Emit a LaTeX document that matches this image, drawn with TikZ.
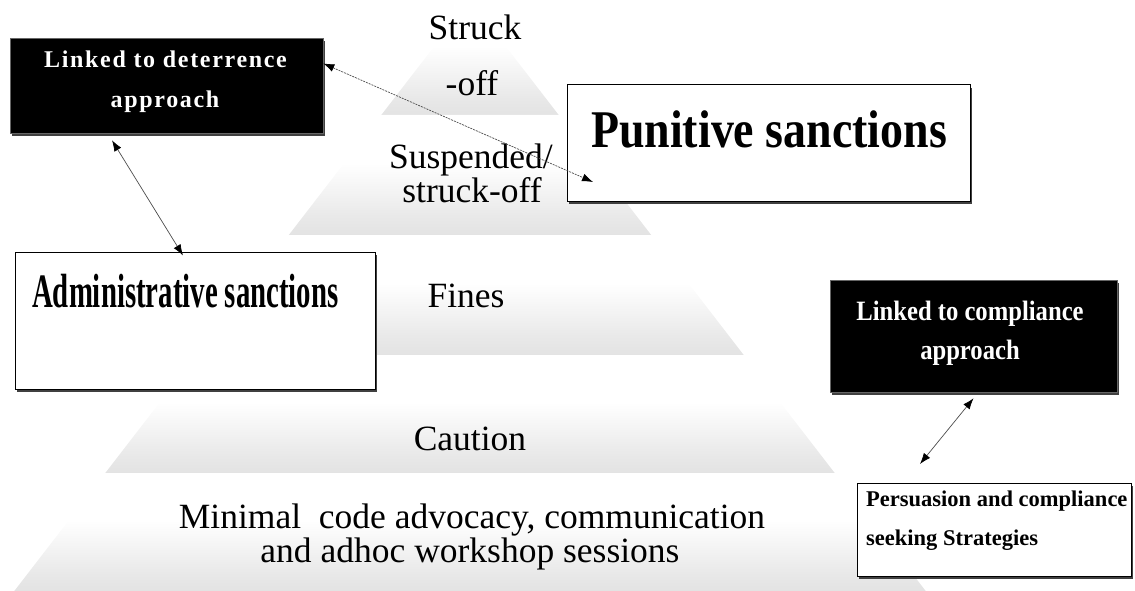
\documentclass[tikz,border=0pt]{standalone}
\usepackage{graphicx}
\usepackage{fontspec}
\setmainfont{Liberation Serif}
\newfontfamily\widebold[LetterSpace=7]{Liberation Serif}
\usetikzlibrary{arrows.meta,shadows}
% tier fill: light grey at the foot, fading to white above the middle
\pgfdeclareverticalshading{tier}{100bp}{color(0bp)=(black!11); color(25bp)=(black!11); color(32bp)=(black!9); color(55bp)=(white); color(100bp)=(white)}
\begin{document}
\begin{tikzpicture}[x=1pt,y=-1pt,
  tier/.style={shading=tier},
  tiertext/.style={font=\fontsize{35.5}{34}\selectfont, inner sep=0pt, anchor=base},
  boxshadow/.style={drop shadow={shadow xshift=2pt,shadow yshift=-3pt,fill=black!75,opacity=1}},
  darkbox/.style={fill=black, draw=black!60, line width=0.6pt, inner sep=0pt, boxshadow},
  lightbox/.style={fill=white, draw=black, line width=1pt, inner sep=0pt, boxshadow},
  darktext/.style={text=white, inner sep=0pt, anchor=base},
  detfont/.style={font=\widebold\bfseries\fontsize{24}{26}\selectfont},
  compfont/.style={font=\bfseries\fontsize{28}{28}\selectfont},
  persfont/.style={inner sep=0pt, anchor=base west, font=\bfseries\fontsize{22.5}{26}\selectfont},
  tip/.tip={Latex[length=11pt,width=8pt,color=black]},
  link/.style={tip-tip, draw=black!70, line width=0.7pt},
]
\useasboundingbox (0,0) rectangle (1135,591);

% pyramid tiers, apex on top
\shade[tier] (470,0) -- (558.7,115) -- (381.3,115) -- cycle;
\shade[tier] (381.3,115) -- (558.7,115) -- (651.2,235) -- (288.8,235) -- cycle;
\shade[tier] (288.8,235) -- (651.2,235) -- (743.7,355) -- (196.3,355) -- cycle;
\shade[tier] (196.3,355) -- (743.7,355) -- (834.7,473) -- (105.3,473) -- cycle;
\shade[tier] (105.3,473) -- (834.7,473) -- (925.7,591) -- (14.3,591) -- cycle;

% tier labels
\node[tiertext] (t1a) at (475,40) {Struck};
\node[tiertext] (t1b) at (472,96) {-off};
\node[tiertext] (t2a) at (471,168) {Suspended/};
\node[tiertext] (t2b) at (472,202) {struck-off};
\node[tiertext] (t3) at (466,307) {Fines};
\node[tiertext] (t4) at (470,450) {Caution};
\node[tiertext] (t5a) at (472,528) {Minimal\ \ code advocacy, communication};
\node[tiertext] (t5b) at (470,562) {and adhoc workshop sessions};

% boxes
\node[darkbox, minimum width=313pt, minimum height=95pt] (det) at (166.5,85.5) {};
\node[darktext, detfont] (detA) at (165.5,68) {Linked to deterrence};
\node[darktext, detfont] (detB) at (165,108) {approach};

\node[lightbox, minimum width=403pt, minimum height=116pt] (pun) at (768.5,143) {};
\node[inner sep=0pt, anchor=base, font=\bfseries\fontsize{53}{53}\selectfont] (punT) at (769,148) {\scalebox{0.866}[1]{Punitive sanctions}};

\node[lightbox, minimum width=360pt, minimum height=137pt] (adm) at (195,320.5) {};
\node[inner sep=0pt, anchor=base west, font=\bfseries\fontsize{48}{48}\selectfont] (admT) at (32,307) {\scalebox{0.6}[1]{Administrative sanctions}};

\node[darkbox, minimum width=287pt, minimum height=112pt] (comp) at (973.5,336) {};
\node[darktext, compfont] (compA) at (970,320) {\scalebox{0.88}[1]{Linked to compliance}};
\node[darktext, compfont] (compB) at (970,359) {\scalebox{0.88}[1]{approach}};

\node[lightbox, minimum width=274pt, minimum height=93pt] (pers) at (994,529.5) {};
\node[persfont] (persA) at (866,506) {Persuasion and compliance};
\node[persfont] (persB) at (866,545) {seeking Strategies};

% connectors
\coordinate (punEnd) at (593,182);
\coordinate (persEnd) at (920,464);
\draw[link, dash pattern=on 2pt off 1pt] (det.8) -- (punEnd);
\draw[link] ([xshift=-54.5pt,yshift=-7pt]det.south) -- ([xshift=-12pt,yshift=-4pt]adm.north);
\draw[link] ([xshift=0pt,yshift=-6pt]comp.south) -- (persEnd);
\end{tikzpicture}
\end{document}
